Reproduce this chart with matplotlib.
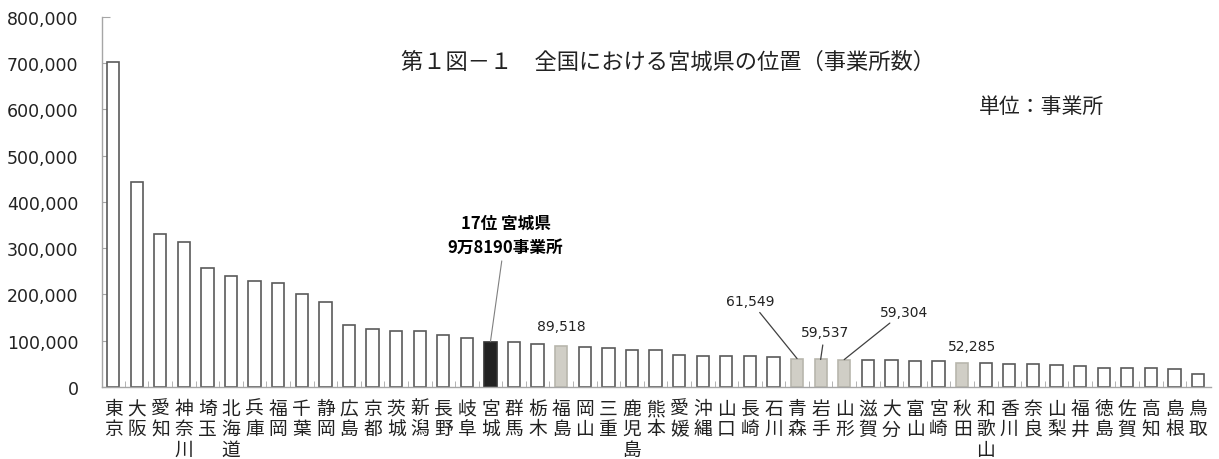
import numpy as np
import matplotlib
matplotlib.use("Agg")
from matplotlib import pyplot as plt
from matplotlib.ticker import FuncFormatter, MultipleLocator

plt.rcParams['font.family'] = ['Noto Sans CJK JP', 'DejaVu Sans']

# data (事業所数, 都道府県別)
prefs = ["東京", "大阪", "愛知", "神奈川", "埼玉", "北海道", "兵庫", "福岡", "千葉", "静岡",
         "広島", "京都", "茨城", "新潟", "長野", "岐阜", "宮城", "群馬", "栃木", "福島",
         "岡山", "三重", "鹿児島", "熊本", "愛媛", "沖縄", "山口", "長崎", "石川", "青森",
         "岩手", "山形", "滋賀", "大分", "富山", "宮崎", "秋田", "和歌山", "香川", "奈良",
         "山梨", "福井", "徳島", "佐賀", "高知", "島根", "鳥取"]
counts = [702000, 443000, 331000, 313000, 257000, 241000, 229000, 224000, 200000, 183000,
          134000, 125000, 122000, 120000, 112000, 105000, 98190, 96500, 93000, 89518,
          86500, 83500, 81000, 80000, 69500, 67500, 66300, 66000, 65500, 61549,
          59537, 59304, 58400, 57600, 56000, 56000, 52285, 51200, 50500, 49700,
          46800, 44700, 41800, 41500, 41000, 39600, 28800]
tohoku = ["青森", "岩手", "山形", "福島", "秋田"]
miyagi = "宮城"

# labels: (prefecture, text, offset in px, draw leader line)
labels = [("福島", "89,518", (0, 20), False),
          ("青森", "61,549", (-47, 58), True),
          ("岩手", "59,537", (4, 27), True),
          ("山形", "59,304", (60, 48), True),
          ("秋田", "52,285", (10, 17), False)]

fig = plt.figure(figsize=(12.19, 4.6), dpi=100)
ax = fig.add_axes([0.0837, 0.1565, 0.9097, 0.8045])

x = np.arange(len(prefs))
face = []
edge = []
for p in prefs:
    if p == miyagi:
        face.append("#222222"); edge.append("#333333")
    elif p in tohoku:
        face.append("#d0cec6"); edge.append("#b8b6ad")
    else:
        face.append("white"); edge.append("#5a5a5a")
ax.bar(x, counts, width=0.52, color=face, edgecolor=edge, linewidth=1.2, zorder=2)

ax.set_xlim(-0.47, len(prefs) - 0.45)
ax.set_ylim(0, 800000)
ax.yaxis.set_major_locator(MultipleLocator(100000))
ax.yaxis.set_major_formatter(FuncFormatter(lambda v, _: f"{int(v):,}"))
ax.tick_params(axis='y', direction='in', length=6, color='#a6a6a6', pad=17,
               labelsize=12.5, labelcolor='#222222')
for t in ax.get_yticklabels():
    t.set_family('DejaVu Sans')

ax.set_xticks(x)
ax.set_xticklabels(["\n".join(p) for p in prefs], fontsize=13.5, linespacing=0.95,
                   va='top', color='#222222')
ax.set_xticks(x[:-1] + 0.5, minor=True)
ax.tick_params(axis='x', which='major', length=0, pad=8)
ax.tick_params(axis='x', which='minor', direction='in', length=4, color='#a6a6a6')

for s in ['top', 'right']:
    ax.spines[s].set_visible(False)
for s in ['left', 'bottom']:
    ax.spines[s].set_color('#a6a6a6')
    ax.spines[s].set_linewidth(1.0)

# annotations
i = prefs.index(miyagi)
ax.annotate("17位 宮城県\n9万8190事業所", xy=(i, counts[i]), xytext=(15, 107),
            textcoords='offset pixels', ha='center', va='center', fontsize=12,
            fontweight='bold', linespacing=1.4,
            arrowprops=dict(arrowstyle='-', color='#808080', lw=0.8, shrinkA=2, shrinkB=0))
for p, txt, off, line in labels:
    i = prefs.index(p)
    ap = dict(arrowstyle='-', color='#404040', lw=0.9, shrinkA=2, shrinkB=0) if line else None
    ax.annotate(txt, xy=(i, counts[i]), xytext=off, textcoords='offset pixels',
                ha='center', va='center', fontsize=10, family='DejaVu Sans',
                color='#222222', arrowprops=ap)

fig.text(0.548, 0.865, "第１図－１　全国における宮城県の位置（事業所数）", ha='center', va='center',
         fontsize=16, color='#222222')
fig.text(0.854, 0.767, "単位：事業所", ha='center', va='center', fontsize=15, color='#222222')

fig.savefig("out.png", dpi=100, facecolor='white')
